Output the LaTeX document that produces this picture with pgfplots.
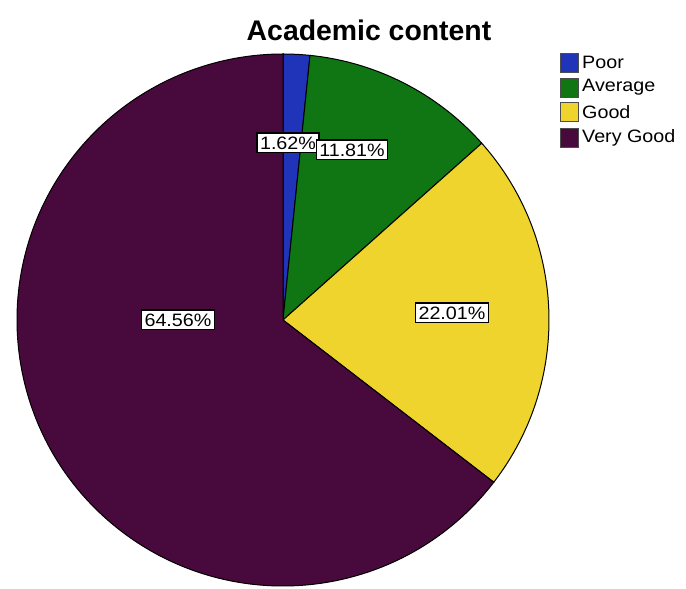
\documentclass[border=0pt]{standalone}
\usepackage{pgfplots}
\usepackage{pgfplotstable}
\usepackage{fontspec}
\pgfplotsset{compat=1.18}
\setmainfont{Liberation Sans}
\newfontfamily\lblfont[FakeStretch=1.1]{Liberation Sans}

\definecolor{cpoor}{RGB}{32,52,186}
\definecolor{cavg}{RGB}{16,118,20}
\definecolor{cgood}{RGB}{238,212,44}
\definecolor{cvgood}{RGB}{72,9,60}

% share in percent, label position in picture pixels (x from left, y from top)
\pgfplotstableread[col sep=comma]{
label,pct,lx,ly
Poor,1.62,288,143
Average,11.81,352,150
Good,22.01,452,313
Very Good,64.56,178,320
}\piedata

\begin{document}
\begin{tikzpicture}
\pgfplotstablegetelem{0}{pct}\of\piedata \let\pA\pgfplotsretval
\pgfplotstablegetelem{1}{pct}\of\piedata \let\pB\pgfplotsretval
\pgfplotstablegetelem{2}{pct}\of\piedata \let\pC\pgfplotsretval
\pgfplotstablegetelem{3}{pct}\of\piedata \let\pD\pgfplotsretval
\pgfmathsetmacro\aA{90}
\pgfmathsetmacro\aB{\aA-3.6*\pA}
\pgfmathsetmacro\aC{\aB-3.6*\pB}
\pgfmathsetmacro\aD{\aC-3.6*\pC}
\pgfmathsetmacro\aE{\aD-3.6*\pD}
\def\R{266bp}
\begin{axis}[
  width=686bp, height=589bp,
  scale only axis,
  hide axis,
  clip=false,
  xmin=0, xmax=686,
  ymin=0, ymax=589,
]
\fill[cpoor, draw=black, line width=1bp] (axis cs:283,269) -- ++(\aA:\R) arc[start angle=\aA, end angle=\aB, radius=\R] -- cycle;
\fill[cavg, draw=black, line width=1bp] (axis cs:283,269) -- ++(\aB:\R) arc[start angle=\aB, end angle=\aC, radius=\R] -- cycle;
\fill[cgood, draw=black, line width=1bp] (axis cs:283,269) -- ++(\aC:\R) arc[start angle=\aC, end angle=\aD, radius=\R] -- cycle;
\fill[cvgood, draw=black, line width=1bp] (axis cs:283,269) -- ++(\aD:\R) arc[start angle=\aD, end angle=\aE, radius=\R] -- cycle;

\tikzset{plbl/.style={draw=black, line width=1.3bp, fill=white, inner xsep=3bp, inner ysep=3.5bp,
  font=\lblfont\fontsize{18}{18}\selectfont}}
\node[plbl] at (axis cs:288,446) {1.62\%};
\node[plbl] at (axis cs:352,439) {11.81\%};
\node[plbl] at (axis cs:452,276) {22.01\%};
\node[plbl] at (axis cs:178,269) {64.56\%};

\node[font=\bfseries\fontsize{28.5}{28.5}\selectfont] at (axis cs:369,559) {Academic content};

\tikzset{lgbox/.style={draw=black!70, line width=0.5bp, minimum width=18bp, minimum height=19bp, inner sep=0pt},
  lgtxt/.style={anchor=west, inner sep=0pt, font=\lblfont\fontsize{18}{18}\selectfont}}
\node[lgbox, fill=cpoor] at (axis cs:569,526.5) {};
\node[lgtxt] at (axis cs:582,526.5) {Poor};
\node[lgbox, fill=cavg] at (axis cs:569,501.5) {};
\node[lgtxt] at (axis cs:582,501.5) {Average};
\node[lgbox, fill=cgood] at (axis cs:569,477) {};
\node[lgtxt] at (axis cs:582,477) {Good};
\node[lgbox, fill=cvgood] at (axis cs:569,451.5) {};
\node[lgtxt] at (axis cs:582,451.5) {Very Good};
\end{axis}
\pgfresetboundingbox
\path[use as bounding box] (current axis.south west) rectangle (current axis.north east);
\end{tikzpicture}
\end{document}
